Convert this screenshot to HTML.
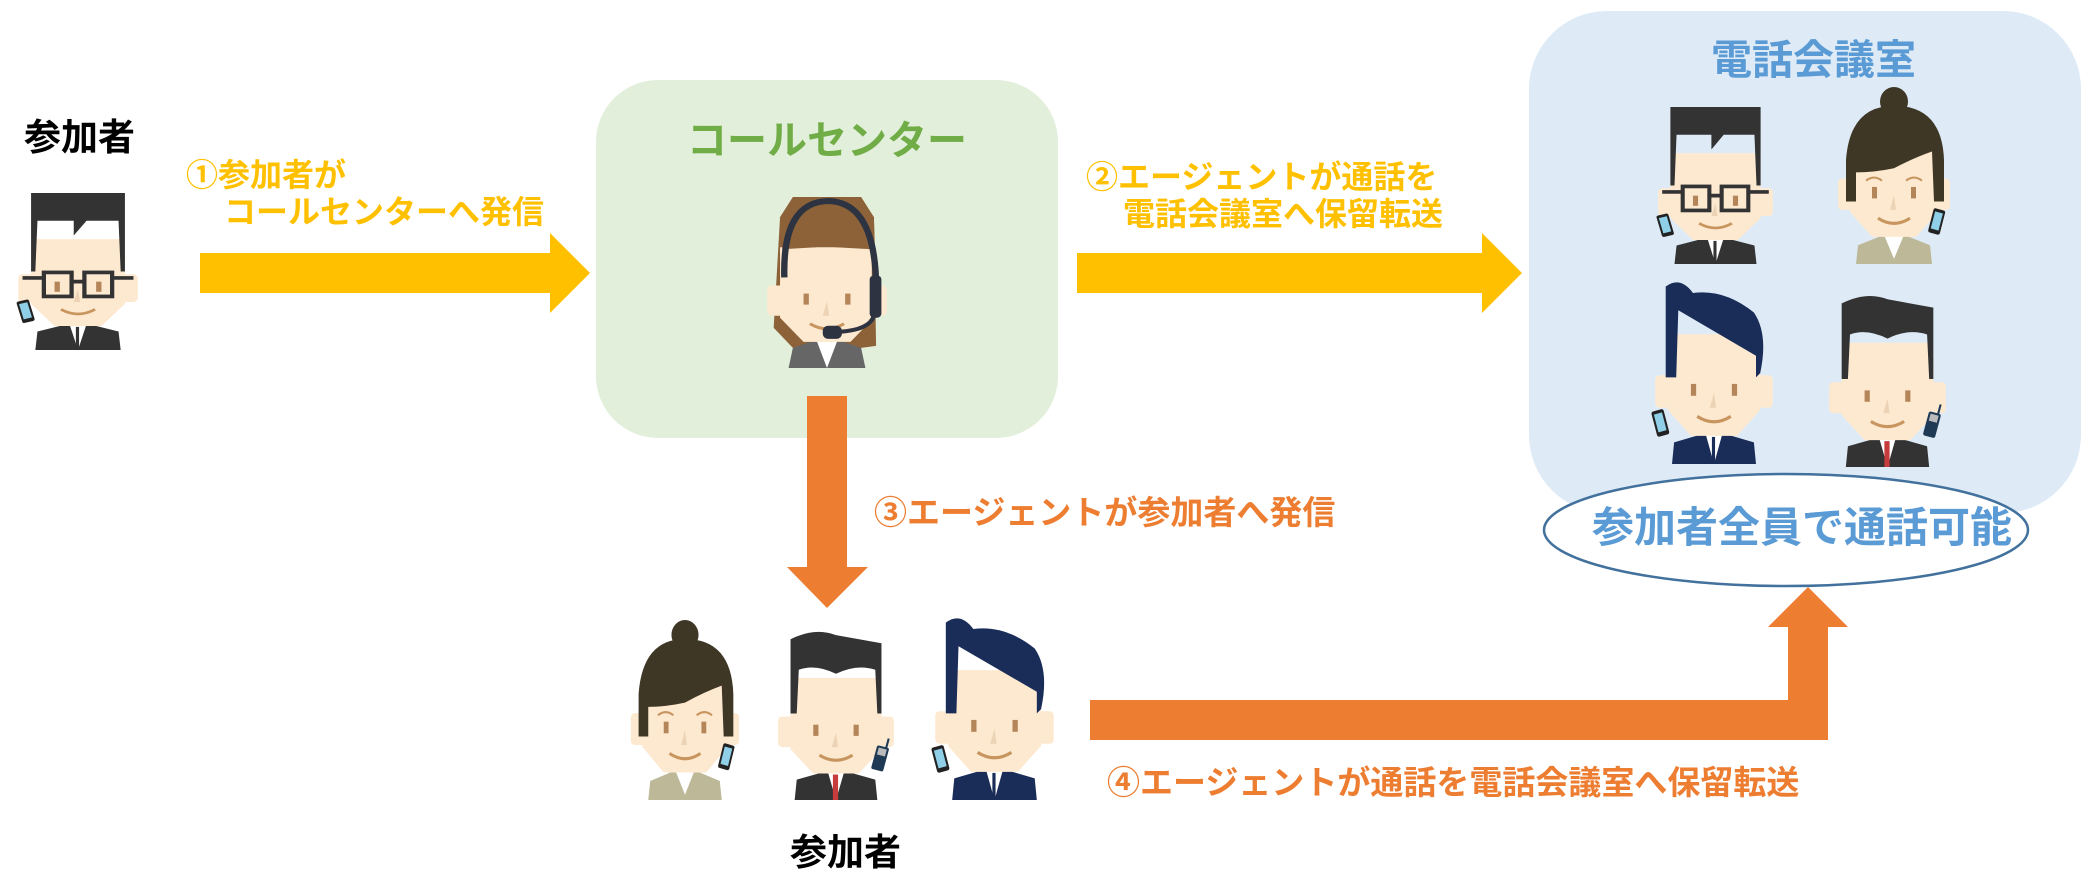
<!DOCTYPE html>
<html><head><meta charset="utf-8">
<style>
html,body{margin:0;padding:0;background:#fff}
body{width:2092px;height:895px;position:relative;overflow:hidden;font-family:"Liberation Sans","Noto Sans CJK JP",sans-serif;font-weight:bold}
.t{position:absolute;white-space:nowrap;line-height:1}
svg{position:absolute;left:0;top:0}
</style></head><body>
<svg width="2092" height="895" viewBox="0 0 2092 895">
<defs>
<g id="face">
 <rect x="4" y="88" width="18" height="30" rx="4" fill="#fde9d0"/>
 <rect x="98" y="88" width="18" height="30" rx="4" fill="#fde9d0"/>
 <path d="M16,50 L104,50 L104,120 L82,144 L38,144 L16,120 Z" fill="#fde9d0"/>
 <rect x="38" y="96" width="5" height="11" fill="#b5855a"/>
 <rect x="77" y="96" width="5" height="11" fill="#b5855a"/>
 <path d="M60,104 L56,118 L62,118 Z" fill="#ecd3b5"/>
 <path d="M44,126 Q60,136 76,126" stroke="#c8955f" stroke-width="3" fill="none"/>
</g>
<g id="phone"><rect x="0" y="0" width="12" height="24" rx="2" fill="#222"/><rect x="2" y="3" width="8" height="17" fill="#8fd0e8"/></g>
<symbol id="glasses" viewBox="0 0 120 170" preserveAspectRatio="none">
 <path d="M22,150 L50,142 L70,142 L98,150 L100,170 L20,170 Z" fill="#333"/>
 <path d="M52,142 L60,170 L68,142 Z" fill="#fff"/><rect x="58" y="145" width="3" height="25" fill="#333"/>
 <use href="#face"/>
 <path d="M16,0 L104,0 L104,85 L100,85 L98,30 L68,30 L56,46 L56,30 L22,30 L20,85 L16,85 Z" fill="#333"/>
 <rect x="28" y="86" width="26" height="26" fill="none" stroke="#333" stroke-width="4"/>
 <rect x="66" y="86" width="26" height="26" fill="none" stroke="#333" stroke-width="4"/>
 <path d="M54,96 L66,96 M8,92 L28,92 M92,92 L112,92" stroke="#333" stroke-width="4"/>
 <g transform="translate(2,118) rotate(-15)"><use href="#phone"/></g>
</symbol>
<symbol id="bun" viewBox="0 0 120 170" preserveAspectRatio="none">
 <path d="M24,152 L50,142 L70,142 L96,152 L98,170 L22,170 Z" fill="#bdb898"/>
 <path d="M50,142 L60,165 L70,142 Z" fill="#fff"/>
 <use href="#face"/>
 <circle cx="60" cy="14" r="14" fill="#3f3726"/>
 <path d="M12,110 L12,70 Q16,18 60,18 Q108,18 110,70 L110,110 L100,110 L98,62 Q80,68 60,78 Q40,82 22,82 L22,110 Z" fill="#3f3726"/>
 <path d="M32,90 Q40,84 48,90 M72,90 Q80,84 88,90" stroke="#c8955f" stroke-width="2" fill="none"/>
 <g transform="translate(100,116) rotate(15)"><use href="#phone"/></g>
</symbol>
<symbol id="navy" viewBox="0 0 120 170" preserveAspectRatio="none">
 <path d="M22,150 L50,142 L70,142 L98,150 L100,170 L20,170 Z" fill="#1a2d58"/>
 <path d="M52,142 L60,170 L68,142 Z" fill="#fff"/><rect x="58" y="145" width="3" height="25" fill="#1a2d58"/>
 <use href="#face"/>
 <path d="M14,90 L14,6 Q28,-4 40,12 Q70,8 98,30 Q112,50 104,86 L100,90 L100,70 L26,28 L24,90 Z" fill="#1a2d58"/>
 <g transform="translate(0,122) rotate(-15)"><use href="#phone"/></g>
</symbol>
<symbol id="dark" viewBox="0 0 120 170" preserveAspectRatio="none">
 <path d="M22,150 L50,142 L70,142 L98,150 L100,170 L20,170 Z" fill="#333"/>
 <path d="M52,142 L60,170 L68,142 Z" fill="#fff"/><rect x="57" y="145" width="5" height="25" fill="#c63c3c"/>
 <use href="#face"/>
 <path d="M16,85 L16,12 Q40,0 60,8 L104,16 L104,85 L100,85 L98,42 Q80,36 60,46 Q40,36 24,42 L22,85 Z" fill="#333"/>
 <g transform="translate(100,116) rotate(15)"><rect x="0" y="0" width="12" height="24" rx="2" fill="#1f3a55"/><rect x="2" y="2" width="8" height="7" fill="#bbb"/><rect x="8" y="-9" width="2" height="10" fill="#1f3a55"/></g>
</symbol>
<symbol id="agent" viewBox="0 0 120 170" preserveAspectRatio="none">
 <path d="M28,0 L92,0 L104,20 L106,148 L92,150 L28,150 L10,130 L16,20 Z" fill="#8d6239"/>
 <path d="M28,150 L50,142 L70,142 L92,150 L96,170 L24,170 Z" fill="#666"/>
 <path d="M50,142 L60,170 L70,142 Z" fill="#fff"/>
 <use href="#face"/>
 <path d="M18,90 L18,52 L50,50 L72,26 L68,50 L102,52 L102,90 L106,90 L104,20 L18,20 Z" fill="#8d6239"/>
 <path d="M20,80 Q18,4 62,4 Q108,6 106,100" stroke="#2d3340" stroke-width="6" fill="none"/>
 <rect x="100" y="78" width="11" height="42" rx="4" fill="#2d3340"/>
 <path d="M104,118 Q100,132 72,134" stroke="#2d3340" stroke-width="4" fill="none"/>
 <rect x="56" y="128" width="18" height="13" rx="5" fill="#2d3340"/>
</symbol>
</defs>

<rect x="596" y="80" width="462" height="358" rx="62" fill="#e2efda"/>
<rect x="1529" y="11" width="552" height="502" rx="78" fill="#deebf7"/>

<path d="M200,253 L550,253 L550,233 L590,273 L550,313 L550,293 L200,293 Z" fill="#ffc000"/>
<path d="M1077,253 L1482,253 L1482,233 L1522,273 L1482,313 L1482,293 L1077,293 Z" fill="#ffc000"/>
<path d="M807,396 L847,396 L847,567 L868,567 L827,608 L787,567 L807,567 Z" fill="#ed7d31"/>
<path d="M1090,700 L1788,700 L1788,627 L1768,627 L1808,587 L1848,627 L1828,627 L1828,740 L1090,740 Z" fill="#ed7d31"/>

<ellipse cx="1786" cy="530" rx="242" ry="56" fill="#fff" stroke="#41719c" stroke-width="2.5"/>

<use href="#glasses" x="14" y="193" width="128" height="157"/>
<use href="#agent" x="763" y="197" width="128" height="171"/>
<use href="#glasses" x="1654" y="107" width="123" height="157"/>
<use href="#bun" x="1834" y="87" width="120" height="177"/>
<use href="#navy" x="1651" y="280" width="126" height="184"/>
<use href="#dark" x="1825" y="291" width="125" height="176"/>
<use href="#bun" x="627" y="620" width="116" height="180"/>
<use href="#dark" x="774" y="627" width="124" height="173"/>
<use href="#navy" x="931" y="616" width="127" height="184"/>
</svg>

<div class="t" style="left:24px;top:119px;font-size:37px;color:#000">参加者</div>
<div class="t" style="left:186px;top:159px;font-size:32px;color:#ffc000">①参加者が</div>
<div class="t" style="left:224px;top:196px;font-size:32px;color:#ffc000">コールセンターへ発信</div>
<div class="t" style="left:687px;top:121px;font-size:40px;color:#70ad47">コールセンター</div>
<div class="t" style="left:1086px;top:161px;font-size:32px;color:#ffc000">②エージェントが通話を</div>
<div class="t" style="left:1123px;top:198px;font-size:32px;color:#ffc000">電話会議室へ保留転送</div>
<div class="t" style="left:1711px;top:40px;font-size:41px;color:#5b9bd5">電話会議室</div>
<div class="t" style="left:1592px;top:507px;font-size:42px;color:#5b9bd5">参加者全員で通話可能</div>
<div class="t" style="left:874px;top:496px;font-size:33px;color:#ed7d31">③エージェントが参加者へ発信</div>
<div class="t" style="left:1107px;top:766px;font-size:33px;color:#ed7d31">④エージェントが通話を電話会議室へ保留転送</div>
<div class="t" style="left:790px;top:834px;font-size:37px;color:#000">参加者</div>
</body></html>
